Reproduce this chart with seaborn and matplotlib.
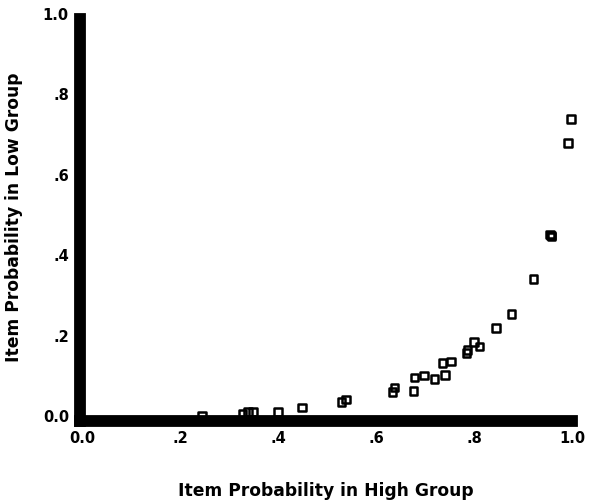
import matplotlib
matplotlib.use("Agg")
import matplotlib.pyplot as plt
import seaborn as sns
import pandas as pd

p_high = [0.245, 0.327, 0.339, 0.349, 0.400, 0.449, 0.529, 0.539, 0.633, 0.638,
          0.676, 0.678, 0.698, 0.720, 0.741, 0.736, 0.753, 0.784, 0.786, 0.800,
          0.812, 0.845, 0.876, 0.922, 0.955, 0.958, 0.957, 0.992, 0.998]
p_low = [0.000, 0.007, 0.010, 0.010, 0.010, 0.022, 0.035, 0.042, 0.060, 0.070,
         0.062, 0.095, 0.100, 0.092, 0.102, 0.132, 0.135, 0.157, 0.164, 0.184,
         0.172, 0.219, 0.254, 0.341, 0.451, 0.447, 0.449, 0.679, 0.739]

x_ticks = [0.0, 0.2, 0.4, 0.6, 0.8, 1.0]
x_ticklabels = ["0.0", ".2", ".4", ".6", ".8", "1.0"]
y_ticks = [0.0, 0.2, 0.4, 0.6, 0.8, 1.0]
y_ticklabels = ["0.0", ".2", ".4", ".6", ".8", "1.0"]

df = pd.DataFrame({"high": p_high, "low": p_low})

sns.set_theme(style="white")
plt.rcParams["font.family"] = ["DejaVu Sans"]

fig = plt.figure(figsize=(5.9, 5.03), dpi=100)
ax = fig.add_axes([80 / 590, (503 - 421) / 503, 492 / 590, 407 / 503])

sns.scatterplot(data=df, x="high", y="low", ax=ax, marker="s", s=27,
                facecolor="none", edgecolor="black", linewidth=1.8,
                clip_on=False, zorder=1)

ax.set_xlim(-0.004, 1.0)
ax.set_ylim(-0.0124, 1.0)
ax.set_xticks(x_ticks)
ax.set_xticklabels(x_ticklabels)
ax.set_yticks(y_ticks)
ax.set_yticklabels(y_ticklabels)
ax.tick_params(axis="both", length=0, labelsize=10.5, colors="black")
ax.tick_params(axis="y", pad=8)
ax.tick_params(axis="x", pad=7)
for lab in ax.get_xticklabels() + ax.get_yticklabels():
    lab.set_fontweight("bold")

for side in ["top", "right"]:
    ax.spines[side].set_visible(False)
for side in ["left", "bottom"]:
    ax.spines[side].set_linewidth(8.5)
    ax.spines[side].set_color("black")
    ax.spines[side].set_zorder(3)
ax.spines["left"].set_bounds(-0.0124, 0.987)
ax.spines["bottom"].set_bounds(-0.004, 1.0)

ax.set_xlabel("Item Probability in High Group", fontsize=12.3, fontweight="bold",
              labelpad=26, color="black")
ax.set_ylabel("Item Probability in Low Group", fontsize=12.3, fontweight="bold",
              labelpad=14, color="black")
ax.grid(False)

fig.savefig("out.png", dpi=100)
